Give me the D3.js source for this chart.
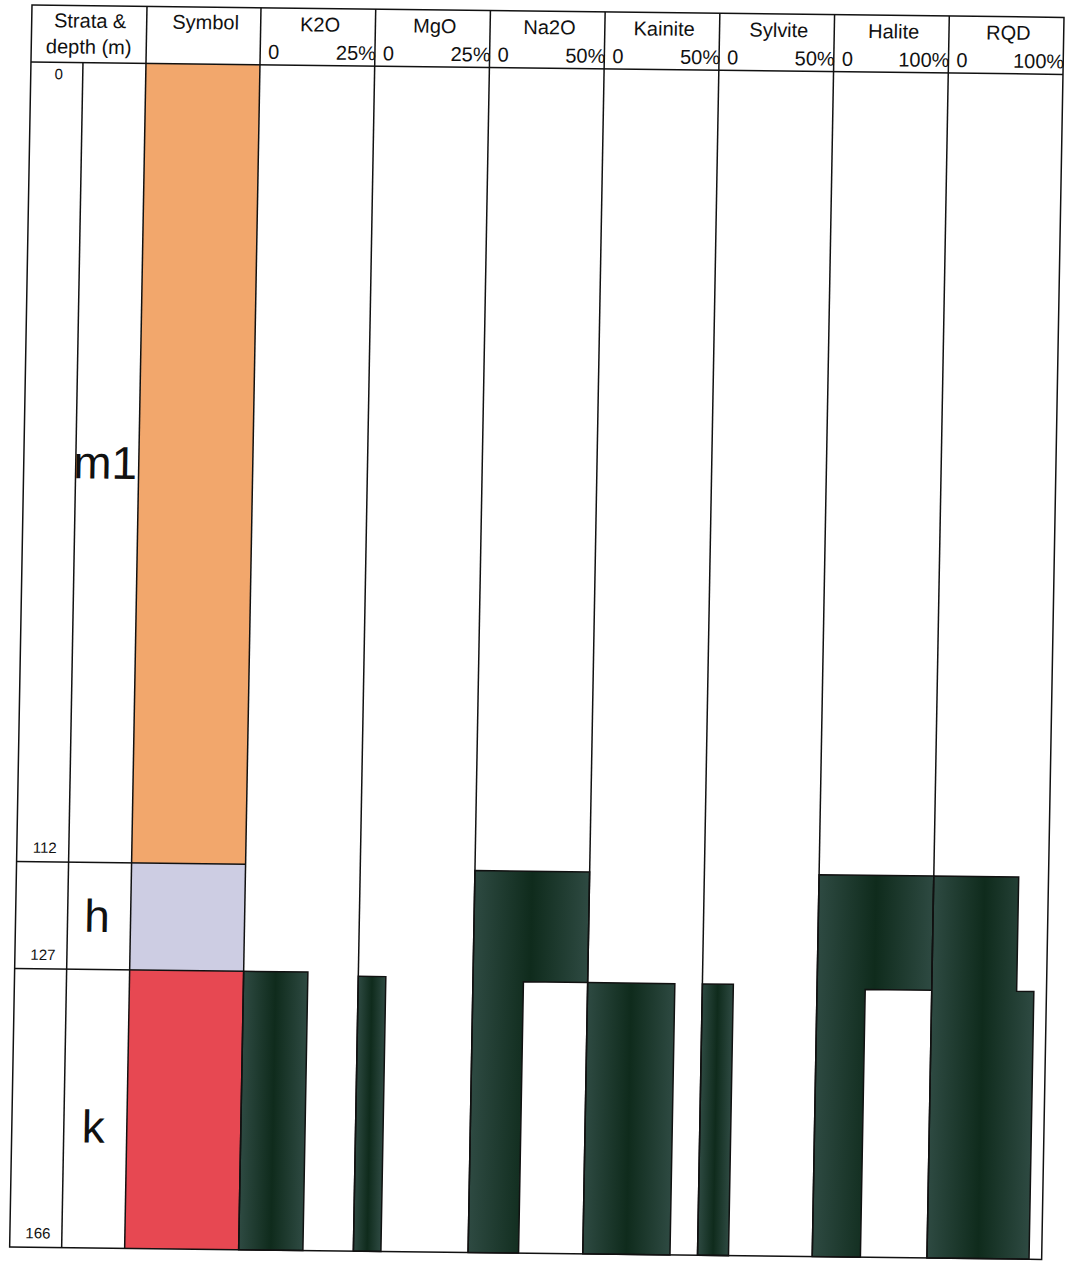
<!DOCTYPE html>
<html>
<head>
<meta charset="utf-8">
<script src="https://cdn.jsdelivr.net/npm/d3@7"></script>
<style>
  body { margin: 0; background: #fff; }
  svg { display: block; }
  text { font-family: "Liberation Sans", Arial, sans-serif; fill: #111; }
</style>
</head>
<body>
<svg id="log" width="1069" height="1265"></svg>
<script>
// Stratigraphic units of the borehole (top / base depth in metres)
const strata = ["m1", "h", "k"];
const strataTop = [0, 112, 127];
const strataBase = [112, 127, 166];
const strataLabelDepth = [56, 119.5, 149];
const strataColors = ["#F2A76C", "#CDCDE3", "#E74852"];
const depthTicks = [0, 112, 127, 166];

// Analysis columns and their full-scale values (%)
const columns = ["K2O", "MgO", "Na2O", "Kainite", "Sylvite", "Halite", "RQD"];
const columnMax = [25, 25, 50, 50, 50, 100, 100];
const columnMaxLabels = ["25%", "25%", "50%", "50%", "50%", "100%", "100%"];

// Interval values per column: [top depth, base depth, value %]
const k2o = [[127, 166, 14]];
const mgo = [[127.5, 166, 6]];
const na2o = [[112.5, 128, 50], [128, 166, 22]];
const kainite = [[128, 166, 38]];
const sylvite = [[128, 166, 13.5]];
const halite = [[112.5, 128.5, 100], [128.5, 166, 42]];
const rqd = [[112.5, 128.5, 74], [128.5, 166, 89]];
const intervals = [k2o, mgo, na2o, kainite, sylvite, halite, rqd];

// Layout
const W = 1032, H = 1242, headH = 57;
const strataW = 115, subW = 52, symbolW = 114;
const dataLeft = strataW + symbolW;

const svg = d3.select("#log");
const defs = svg.append("defs");
const grad = defs.append("linearGradient").attr("id", "barFill")
  .attr("x1", "0").attr("x2", "1").attr("y1", "0").attr("y2", "0");
grad.append("stop").attr("offset", "0").attr("stop-color", "#2e4a42");
grad.append("stop").attr("offset", "0.5").attr("stop-color", "#0f2b1c");
grad.append("stop").attr("offset", "1").attr("stop-color", "#2e4a42");

// the sheet sits slightly askew on the page
const g = svg.append("g").attr("transform", "matrix(1,0.012,-0.018,1,32,5)");

const y = d3.scaleLinear().domain([0, 166]).range([headH, H]);
const band = d3.scaleBand().domain(columns).range([dataLeft, W]).paddingInner(0).paddingOuter(0);

const lineStyle = sel => sel.attr("stroke", "#111").attr("stroke-width", 1.5).attr("fill", "none");

// Symbol column fills
g.selectAll("rect.unit").data(strata).join("rect").attr("class", "unit")
  .attr("x", strataW).attr("width", symbolW)
  .attr("y", (d, i) => y(strataTop[i]))
  .attr("height", (d, i) => y(strataBase[i]) - y(strataTop[i]))
  .attr("fill", (d, i) => strataColors[i]);

// Data columns: stepped profiles
columns.forEach((c, ci) => {
  const x = d3.scaleLinear().domain([0, columnMax[ci]])
    .range([band(c), band(c) + band.bandwidth()]).clamp(true);
  const iv = intervals[ci];
  const pts = [[0, iv[0][0]]];
  iv.forEach(([t, b, v]) => { pts.push([v, t]); pts.push([v, b]); });
  pts.push([0, iv[iv.length - 1][1]]);
  const line = d3.line().x(p => x(p[0])).y(p => y(p[1]));
  g.append("path").attr("d", line(pts) + "Z")
    .attr("fill", "url(#barFill)").attr("stroke", "#111").attr("stroke-width", 1.5);
});

// Grid
g.append("rect").attr("x", 0).attr("y", 0).attr("width", W).attr("height", H).call(lineStyle);
g.append("line").attr("x1", 0).attr("x2", W).attr("y1", headH).attr("y2", headH).call(lineStyle);
const vlines = [strataW, dataLeft].concat(columns.slice(1).map(c => band(c)));
g.selectAll("line.v").data(vlines).join("line").attr("class", "v")
  .attr("x1", d => d).attr("x2", d => d).attr("y1", 0).attr("y2", H).call(lineStyle);
g.append("line").attr("x1", subW).attr("x2", subW).attr("y1", headH).attr("y2", H).call(lineStyle);
g.selectAll("line.h").data(strataBase.slice(0, -1)).join("line").attr("class", "h")
  .attr("x1", 0).attr("x2", dataLeft).attr("y1", d => y(d)).attr("y2", d => y(d)).call(lineStyle);

// Header text
const hf = 20;
g.append("text").attr("x", strataW / 2 + 1).attr("y", 22).attr("text-anchor", "middle")
  .attr("font-size", hf).text("Strata &");
g.append("text").attr("x", strataW / 2).attr("y", 48).attr("text-anchor", "middle")
  .attr("font-size", hf).text("depth (m)");
g.append("text").attr("x", strataW + symbolW / 2 + 2).attr("y", 22).attr("text-anchor", "middle")
  .attr("font-size", hf).text("Symbol");
columns.forEach((c, ci) => {
  const x0 = band(c), bw = band.bandwidth();
  g.append("text").attr("x", x0 + bw / 2 + 2).attr("y", 23).attr("text-anchor", "middle")
    .attr("font-size", hf).text(c);
  g.append("text").attr("x", x0 + 8).attr("y", 51).attr("font-size", hf).text("0");
  g.append("text").attr("x", x0 + bw + 1).attr("y", 51).attr("text-anchor", "end")
    .attr("font-size", hf).text(columnMaxLabels[ci]);
});

// Depth labels
g.selectAll("text.depth").data(depthTicks).join("text").attr("class", "depth")
  .attr("x", subW / 2 + 2).attr("text-anchor", "middle").attr("font-size", 15)
  .attr("y", d => d === 0 ? y(d) + 17 : y(d) - 9)
  .text(d => d);

// Strata names
g.selectAll("text.unitName").data(strata).join("text").attr("class", "unitName")
  .attr("x", (subW + strataW) / 2 - 2).attr("text-anchor", "middle")
  .attr("dominant-baseline", "central").attr("font-size", 46)
  .attr("y", (d, i) => y(strataLabelDepth[i]))
  .text(d => d);
</script>
</body>
</html>
